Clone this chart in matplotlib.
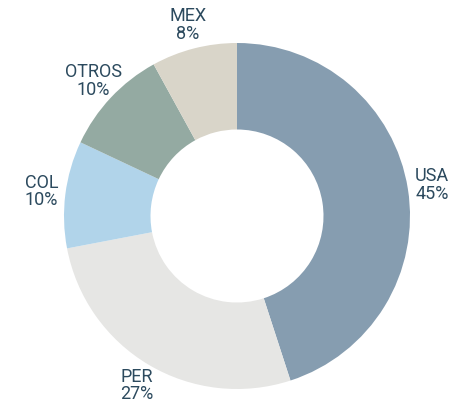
import matplotlib
matplotlib.use("Agg")
from matplotlib import pyplot as plt

paises = ["USA", "PER", "COL", "OTROS", "MEX"]
porcentajes = [45, 27, 10, 10, 8]
colores = ["#869db0", "#e6e6e4", "#b1d4ea", "#94aaa2", "#d9d5c9"]

plt.rcParams['font.family'] = ['Roboto', 'DejaVu Sans']

fig = plt.figure(figsize=(4.62, 4.08), dpi=100)
ax = fig.add_axes([0, 0, 1, 1])

etiquetas = ["%s\n%d%%" % (p, v) for p, v in zip(paises, porcentajes)]
wedges, textos = ax.pie(porcentajes, colors=colores, startangle=90, counterclock=False,
                        labels=etiquetas, labeldistance=1.14,
                        wedgeprops=dict(width=0.5, edgecolor="none"),
                        textprops=dict(color="#2c4a5e", fontsize=13, ha="center",
                                       va="center", linespacing=0.95))
for t in textos:
    t.set_horizontalalignment("center")

ax.set_xlim(-237 / 173.0, 225 / 173.0)
ax.set_ylim(-192 / 173.0, 216 / 173.0)
ax.set_aspect("auto")
ax.axis("off")

fig.savefig("out.png", dpi=100)
